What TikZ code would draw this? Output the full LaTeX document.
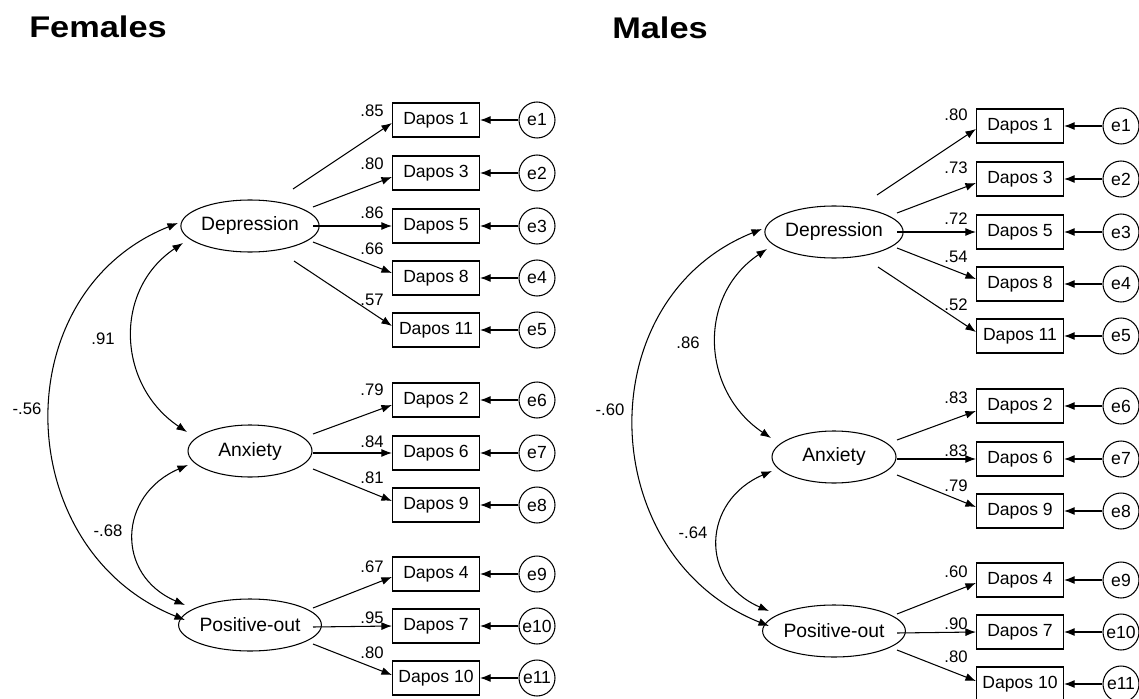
\documentclass[tikz,border=0pt]{standalone}
\usepackage{fontspec}
\setmainfont{Liberation Sans}
\newfontfamily\titlefont[FakeStretch=1.15]{Liberation Sans}
\usetikzlibrary{arrows.meta,shapes.geometric}

\begin{document}
\begin{tikzpicture}[x=0.02cm,y=-0.02cm,line width=0.6pt,>={Latex[length=6pt,width=4.5pt]}]
		\tikzset{obs/.style={shape=rectangle,draw,minimum width=1.74cm,minimum height=0.68cm,inner sep=0pt,font=\fontsize{10}{12}\selectfont},
			lat/.style={shape=ellipse,draw,minimum width=2.48cm,minimum height=1.04cm,inner sep=0pt,font=\fontsize{11}{13}\selectfont},
			err/.style={shape=circle,draw,minimum size=0.72cm,inner sep=0pt,font=\fontsize{10}{12}\selectfont},
			coef/.style={inner sep=0pt,font=\fontsize{9.5}{11}\selectfont},
			heading/.style={inner sep=0pt,font=\titlefont\bfseries\fontsize{17}{20}\selectfont}}
		\useasboundingbox (0,0) rectangle (1139,699);
		\node[heading] (ft) at (98,27) {Females};
		\node[heading] (mt) at (660,28) {Males};
		% one panel per group
		\foreach \p/\ox/\oy in {f/0/0,m/584/6}{
			\node[lat] (\p dep) at ({\ox+250},{\oy+226}) {Depression};
			\node[lat] (\p anx) at ({\ox+250},{\oy+451}) {Anxiety};
			\node[lat] (\p pos) at ({\ox+250},{\oy+625}) {Positive-out};
			\foreach \k/\nr/\y/\lv/\sx/\sy/\ey in {1/1/120/dep/43/-37/3, 2/3/173/dep/63/-19/4, 3/5/226/dep/63/0/0,
				4/8/278/dep/63/16/-5, 5/11/330/dep/44/35/-4, 6/2/400/anx/63/-17/5, 7/6/453/anx/63/2/0,
				8/9/505/anx/63/18/-4, 9/4/574/pos/63/-17/3, 10/7/626/pos/63/2/0, 11/10/678/pos/63/19/-3}{
				\node[obs] (\p d\nr) at ({\ox+436},{\oy+\y}) {Dapos \nr};
				\node[err] (\p e\k) at ({\ox+537},{\oy+\y}) {e\k};
				\draw[->] (\p e\k) -- (\p d\nr);
				\draw[->] ([shift={(\sx,\sy)}]\p\lv.center) -- ([shift={(0,\ey)}]\p d\nr.west);
			}
			\draw[<->] ([shift={(-72,-3)}]\p dep.center) .. controls +(-175,70) and +(-175,-70) .. ([shift={(-65,-5)}]\p pos.center);
			\draw[<->] ([shift={(-67,17)}]\p dep.center) .. controls +(-70,47) and +(-70,-47) .. ([shift={(-63,-19)}]\p anx.center);
			\draw[<->] ([shift={(-62,14)}]\p anx.center) .. controls +(-70,30) and +(-70,-30) .. ([shift={(-65,-20)}]\p pos.center);
		}
		% loadings
		\foreach \p/\nr/\ly/\v in {f/1/-9/.85, f/3/-9/.80, f/5/-13/.86, f/8/-29/.66, f/11/-30/.57, f/2/-10/.79,
			f/6/-11/.84, f/9/-27/.81, f/4/-7/.67, f/7/-8/.95, f/10/-25/.80,
			m/1/-11/.80, m/3/-11/.73, m/5/-13/.72, m/8/-27/.54, m/11/-31/.52, m/2/-8/.83,
			m/6/-8/.83, m/9/-25/.79, m/4/-8/.60, m/7/-8/.90, m/10/-27/.80}
			\node[coef] (\p l\nr) at ([shift={(-20,\ly)}]\p d\nr.west) {\v};
		% correlations
		\foreach \p/\i/\x/\y/\v in {f/1/103/339/.91, f/2/27/409/-.56, f/3/108/531/-.68,
			m/1/688/343/.86, m/2/610/410/-.60, m/3/693/533/-.64}
			\node[coef] (\p r\i) at (\x,\y) {\v};
\end{tikzpicture}
\end{document}
